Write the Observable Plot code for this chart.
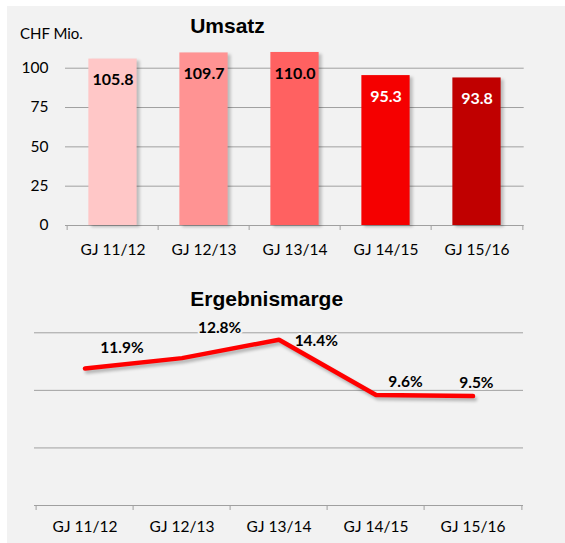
<!DOCTYPE html>
<html>
<head>
<meta charset="utf-8">
<script src="https://cdn.jsdelivr.net/npm/d3@7"></script>
<script src="https://cdn.jsdelivr.net/npm/@observablehq/plot@0.6"></script>
<style>
  html, body { margin: 0; padding: 0; background: #fff; overflow: hidden; width: 565px; height: 543px; }
  #bg { position: absolute; left: 7px; top: 6px; width: 558px; height: 537px; background: #f2f2f2; }
  .title { position: absolute; font-family: "Liberation Sans", Arial, sans-serif; font-weight: bold; font-size: 21px; line-height: 21px; color: #000; transform: translateX(-50%); white-space: nowrap; }
  #t1 { left: 227.5px; top: 14.5px; }
  #t2 { left: 266.7px; top: 288.2px; }
  #unit { position: absolute; left: 20px; top: 25.7px; font-family: Lato, sans-serif; font-size: 15px; line-height: 15px; color: #000; }
  #c1 { position: absolute; left: 0; top: 0; }
  #c2 { position: absolute; left: 0; top: 260px; }
</style>
</head>
<body>
<div id="bg"></div>
<div id="c1"></div>
<div id="c2"></div>
<div class="title" id="t1">Umsatz</div>
<div id="unit">CHF Mio.</div>
<div class="title" id="t2">Ergebnismarge</div>
<script>
// ---- data ----
const categories = ["GJ 11/12", "GJ 12/13", "GJ 13/14", "GJ 14/15", "GJ 15/16"];
const umsatz = [105.8, 109.7, 110.0, 95.3, 93.8];
const marge = [11.9, 12.8, 14.4, 9.6, 9.5];
const umsatzTicks = [0, 25, 50, 75, 100];
const margeGrid = [0, 5, 10, 15];

// ---- styles ----
const barColors = ["#ffc7c7", "#ff9393", "#ff6161", "#f50000", "#c00000"];
const barLabelColors = ["#000", "#000", "#000", "#fff", "#fff"];
const bg = "#f2f2f2";
const gridColor = "#a0a0a0";
const margeLabelOffsets = [[37, -20], [37.6, -30], [37.3, 1], [29.5, -13], [3.4, -13.5]];

const umsatzData = categories.map((c, i) => ({cat: c, value: umsatz[i], fill: barColors[i], lab: barLabelColors[i], i}));
const margeData = categories.map((c, i) => ({cat: c, value: marge[i], i}));

// ---- chart 1: Umsatz ----
{
  const W = 565, H = 260, ml = 65, mr = 41.3, mt = 67.7, mb = 35;
  const bw = (W - ml - mr) / categories.length;
  const pxPerUnit = (H - mt - mb) / 100;
  const tickLen = 5 / pxPerUnit;
  const inset = (bw - 49) / 2;
  const chart = Plot.plot({
    width: W, height: H,
    marginLeft: ml, marginRight: mr, marginTop: mt, marginBottom: mb,
    style: {background: "transparent", fontFamily: "Lato, sans-serif", fontSize: "15.5px", color: "#000", overflow: "visible"},
    x: {type: "band", domain: categories, padding: 0, tickSize: 0, tickPadding: 18.3, label: null},
    y: {domain: [0, 100], ticks: umsatzTicks, tickSize: 0, tickPadding: 17, label: null},
    marks: [
      Plot.ruleY(umsatzTicks, {stroke: gridColor, strokeWidth: 1}),
      Plot.ruleX(categories, {x: d => d, y1: 0, y2: -tickLen, dx: -bw / 2, stroke: gridColor}),
      Plot.ruleX(categories.slice(-1), {x: d => d, y1: 0, y2: -tickLen, dx: bw / 2, stroke: gridColor}),
      Plot.barY(umsatzData, {x: "cat", y: "value", fill: "#000", fillOpacity: 0.22, insetLeft: inset, insetRight: inset, dx: 3, dy: 2, imageFilter: "blur(1.5px)"}),
      Plot.barY(umsatzData, {x: "cat", y: "value", fill: d => d.fill, insetLeft: inset, insetRight: inset}),
      Plot.text(umsatzData, {x: "cat", y: "value", text: d => d.value.toFixed(1), dy: 21, fill: d => d.lab, fontWeight: "bold", fontSize: 16})
    ]
  });
  document.getElementById("c1").appendChild(chart);
}

// ---- chart 2: Ergebnismarge ----
{
  const W = 565, H = 283, ml = 34, mr = 42, mt = 72.3, mb = 38;
  const bw = (W - ml - mr) / categories.length;
  const pxPerUnit = (H - mt - mb) / 15;
  const tickLen = 5 / pxPerUnit;
  const labelMarks = (opts) => margeData.map((d, i) => Plot.text([d], {
    x: "cat", y: "value", text: d => d.value.toFixed(1) + "%",
    dx: margeLabelOffsets[i][0], dy: margeLabelOffsets[i][1],
    fontWeight: "bold", fontSize: 15.5, ...opts
  }));
  const chart = Plot.plot({
    width: W, height: H,
    marginLeft: ml, marginRight: mr, marginTop: mt, marginBottom: mb,
    style: {background: "transparent", fontFamily: "Lato, sans-serif", fontSize: "15.5px", color: "#000", overflow: "visible"},
    x: {type: "band", domain: categories, padding: 0, tickSize: 0, tickPadding: 15.7, label: null},
    y: {domain: [0, 15], axis: null},
    marks: [
      Plot.ruleY(margeGrid, {stroke: gridColor, strokeWidth: 1}),
      Plot.ruleX(categories, {x: d => d, y1: 0, y2: -tickLen, dx: -bw / 2, stroke: gridColor}),
      Plot.ruleX(categories.slice(-1), {x: d => d, y1: 0, y2: -tickLen, dx: bw / 2, stroke: gridColor}),
      ...labelMarks({fill: bg, stroke: bg, strokeWidth: 4}),
      Plot.line(margeData, {x: "cat", y: "value", stroke: "#000", strokeOpacity: 0.25, strokeWidth: 4.5, dx: 2, dy: 3, imageFilter: "blur(1.5px)", strokeLinejoin: "miter"}),
      Plot.line(margeData, {x: "cat", y: "value", stroke: "#ff0000", strokeWidth: 4.5, strokeLinejoin: "miter"}),
      ...labelMarks({fill: "#000"})
    ]
  });
  document.getElementById("c2").appendChild(chart);
}
</script>
</body>
</html>
